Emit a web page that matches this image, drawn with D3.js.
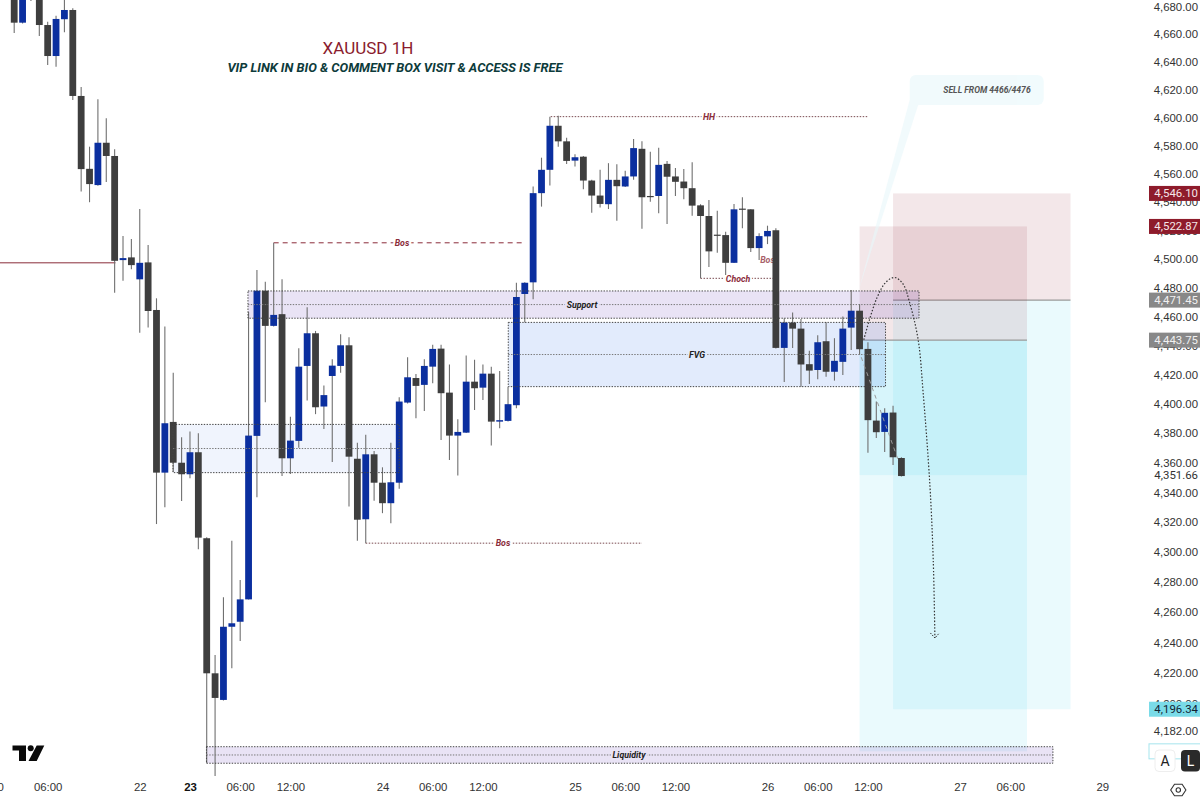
<!DOCTYPE html>
<meta charset="utf-8">

<style type="text/css">
	html, body {
		margin: 0;
		background: #fff;
	}

	svg {
		display: block;
		font-family: Roboto, sans-serif;
	}

	.axis text {
		font-size: 11.4px;
		fill: #333;
	}

	.axis .domain {
		display: none;
	}

	.note {
		font-size: 8.8px;
		font-weight: 700;
		font-style: italic;
		text-anchor: middle;
		dominant-baseline: central;
		paint-order: stroke;
		stroke-width: 4px;
	}
</style>

<body>
	<div id="chart"></div>
</body>

<script src="https://d3js.org/d3.v7.min.js"></script>

<script>
	// hourly candles (first bars run off the top)
	const opens = [4700, 4668.2, 4695, 4692, 4666.5, 4644.1, 4670.7, 4677.4, 4615.4, 4563.5, 4552, 4582, 4572.6, 4499.3, 4501.2, 4485.9, 4497.7, 4464.6, 4353.3, 4387.7, 4360, 4352.2, 4367.1, 4309.2, 4219.8, 4202.4, 4250.4, 4253.7, 4268.5, 4378.2, 4478, 4453.6, 4461.7, 4363, 4374.8, 4426, 4448.5, 4398.2, 4419.1, 4426, 4440.2, 4362.7, 4321.9, 4365.7, 4346.5, 4332.7, 4346.5, 4400.9, 4417.7, 4413, 4425.5, 4437.9, 4407.7, 4378.4, 4380.4, 4415.2, 4411.1, 4420.7, 4387.9, 4388.4, 4399.1, 4475.7, 4483.8, 4546.3, 4562.8, 4594.1, 4583, 4569.3, 4572.1, 4555.2, 4544.6, 4538.5, 4555.7, 4551, 4558.1, 4577.7, 4544.3, 4544.3, 4567, 4558.1, 4554.5, 4549.8, 4537.7, 4530.2, 4517.1, 4516.8, 4497.4, 4535.4, 4534.9, 4507.7, 4515.9, 4520.2, 4438.4, 4455.9, 4451.7, 4427.2, 4423.2, 4443, 4422, 4428.8, 4452.4, 4464.1, 4437.7, 4388.6, 4380.9, 4394.1, 4363.2];
	const highs = [4705, 4700, 4700, 4700, 4668.9, 4673.3, 4690, 4678.6, 4621.8, 4579.2, 4613, 4599.4, 4577.3, 4516.1, 4514, 4535.1, 4509.8, 4472.7, 4453.1, 4421.4, 4377.3, 4381.1, 4380, 4309.8, 4231.8, 4269.9, 4307.6, 4281.3, 4463.4, 4492.4, 4484.2, 4511.4, 4485.9, 4391.3, 4438.1, 4466.5, 4450.1, 4412.5, 4430.6, 4447.8, 4445.7, 4373.6, 4378.9, 4368, 4356.9, 4373.6, 4404.6, 4432, 4420.5, 4430.6, 4440.6, 4440.6, 4426.9, 4389.5, 4433.1, 4430.2, 4426.9, 4425.5, 4422.5, 4411.8, 4483.5, 4483.8, 4551, 4571.4, 4600.6, 4601.3, 4585.6, 4573.8, 4572.6, 4555.7, 4562.8, 4567.5, 4566.8, 4562.1, 4584.6, 4583, 4575.6, 4578.5, 4569, 4564, 4563.3, 4568.2, 4538.5, 4541.5, 4533.9, 4519.2, 4538.7, 4543.4, 4534.9, 4518.1, 4523.4, 4521.6, 4458.9, 4462.8, 4458.4, 4436.5, 4447.1, 4456.1, 4445.1, 4460, 4478.5, 4468.8, 4442.3, 4401.6, 4397.1, 4398.8, 4363.7];
	const lows = [4660.7, 4667.6, 4684, 4658.6, 4637.6, 4636.4, 4661.2, 4612.5, 4547.4, 4539.9, 4551.5, 4554.1, 4476.6, 4484.9, 4492.9, 4448.9, 4452.4, 4318.7, 4329.9, 4353.9, 4334.2, 4349.5, 4301.8, 4161.5, 4153.1, 4202, 4223.1, 4241, 4268.4, 4336.7, 4401.2, 4453.2, 4351, 4352.4, 4370.2, 4402.3, 4393, 4382.8, 4360.5, 4421.4, 4330.4, 4307.6, 4305.9, 4334.4, 4326, 4319.2, 4342.5, 4400.3, 4390.2, 4395.2, 4414.1, 4375.4, 4361.8, 4351.3, 4380.2, 4395.9, 4402.7, 4371.6, 4383.4, 4388, 4397.1, 4455.9, 4472, 4536.8, 4551.7, 4579.2, 4567, 4565.1, 4549.1, 4532.5, 4536.1, 4535.1, 4526.9, 4550.7, 4555.7, 4521.3, 4540.3, 4532.1, 4524.6, 4544.3, 4542, 4530.4, 4486.6, 4494.4, 4504.4, 4488.9, 4497.2, 4521.6, 4505, 4499.3, 4510.5, 4438, 4415, 4438.4, 4411.8, 4413.6, 4416.9, 4418.6, 4415.9, 4419.8, 4437, 4433.6, 4366.8, 4376.8, 4367.3, 4358.5, 4350.7];
	const closes = [4668.2, 4695, 4690, 4666.5, 4644.1, 4670.9, 4677.4, 4615.4, 4563.3, 4552.7, 4582, 4572.6, 4498.8, 4500.7, 4495.8, 4497.4, 4463.9, 4353.3, 4386.8, 4360, 4352.2, 4367.1, 4309.6, 4219.8, 4203.7, 4250.4, 4252.7, 4268.5, 4378.4, 4478, 4453.6, 4461.2, 4363, 4375, 4425.5, 4448.5, 4397.7, 4406, 4426.2, 4440.2, 4364.1, 4321.6, 4365.7, 4346.5, 4332.7, 4346.8, 4401.6, 4418.2, 4412.3, 4426, 4437.7, 4407.3, 4378.4, 4380.9, 4415.2, 4410.7, 4420.7, 4387.9, 4388.9, 4399.8, 4473.6, 4483.5, 4546.3, 4562.8, 4594.1, 4583, 4569.1, 4571.7, 4555.2, 4544.6, 4538.7, 4555.7, 4551.2, 4558.1, 4578.2, 4543.4, 4543.8, 4566.3, 4557.9, 4554.3, 4549.8, 4537.5, 4530.2, 4505.4, 4516.4, 4497.4, 4534.9, 4534.7, 4507.7, 4516.1, 4519.7, 4438.4, 4455.9, 4451.7, 4427, 4422.8, 4442.3, 4422, 4429.5, 4451.7, 4464.1, 4437.5, 4388.9, 4380.7, 4393.9, 4363.7, 4351];
	// small bars whose colour cannot come from open/close at this precision
	const blueDoji = [13, 53, 58, 67];

	const priceTicks = [4680, 4660, 4640, 4620, 4600, 4580, 4560, 4540, 4520, 4500, 4480, 4460, 4440, 4420, 4400, 4380, 4360, 4340, 4320, 4300, 4280, 4260, 4240, 4220, 4200, 4182];
	const timeTicks = [-3, 4, 15, 21, 27, 33, 44, 50, 56, 67, 73, 79, 90, 96, 102, 113, 119, 130];
	const timeLabels = ["00:00", "06:00", "22", "23", "06:00", "12:00", "24", "06:00", "12:00", "25", "06:00", "12:00", "26", "06:00", "12:00", "27", "06:00", "29"];

	// zones: [first bar, last bar, top price, bottom price]
	const supportZone = [27.93, 108.1, 4477.8, 4458.9];
	const fvgZone = [59.03, 104.1, 4456, 4411.8];
	const demandZone = [18.97, 46, 4386, 4353.3];
	const liquidityZone = [22.97, 124.1, 4172, 4161.3];

	// short positions: [first bar, last bar, stop, entry, target]
	const shortA = [101, 121, 4522.87, 4443.75, 4169];
	const shortB = [105, 126.2, 4546.10, 4471.45, 4196.34];
	const lastPrice = 4351.66;

	const labelPrices = [4546.10, 4522.87, 4471.45, 4443.75, 4351.66, 4196.34];
	const labelKinds = ["stop", "stop", "entry", "entry", "last", "target"];

	// projected move, [bar, price]
	const arcPoints = [[101.5, 4444], [103.05, 4472.7], [104.2, 4484.2], [105.2, 4487.2], [106.2, 4482.6], [107, 4469.3], [108, 4444], [108.6, 4407.3], [109.4, 4345], [109.8, 4295], [110, 4243]];
	const fadePoints = [[101.2, 4432], [105.7, 4360.5]];
	// callout box [first bar, last bar, top, bottom] and its tail
	const calloutBox = [107, 123, 4630.4, 4608.9];
	const calloutTail = [[107.15, 4616], [108, 4608.9], [100.9, 4478.5]];

	// structure lines: [first bar, last bar, price]
	const leftLine = [-2, 12.1, 4497.4];
	const bosUpper = [31, 60.9, 4511.4];
	const hhLine = [64.1, 102, 4600.6];
	const bosLower = [42, 75, 4305.9];
	const chochLine = [82, 91, 4486.6];

	const width = 1200;
	const height = 797;

	const x = d3.scaleLinear().domain([0, 100]).range([14.2, 851.2]);
	const y = d3.scaleLog().domain([4660, 4220]).range([34, 673]);

	const svg = d3.select("#chart").append("svg")
		.attr("width", width)
		.attr("height", height);

	const maroon = "#8a2c3a";

	const rectOf = (sel, z) => sel
		.attr("x", x(z[0]))
		.attr("y", y(z[2]))
		.attr("width", x(z[1]) - x(z[0]))
		.attr("height", y(z[3]) - y(z[2]));

	// position tools go under everything
	function drawShort(p, highlight) {
		const g = svg.append("g");
		rectOf(g.append("rect"), [p[0], p[1], p[2], p[3]]).attr("fill", "rgb(138,28,45)").attr("fill-opacity", 0.105);
		rectOf(g.append("rect"), [p[0], p[1], p[3], p[4]]).attr("fill", "rgb(80,215,235)").attr("fill-opacity", 0.12);
		if (highlight) {
			rectOf(g.append("rect"), [p[0], p[1], p[3], lastPrice]).attr("fill", "rgb(80,215,235)").attr("fill-opacity", 0.12);
		}
		g.append("line")
			.attr("x1", x(p[0])).attr("x2", x(p[1]))
			.attr("y1", y(p[3])).attr("y2", y(p[3]))
			.attr("stroke", "#9a9a9a").attr("stroke-width", 1.2);
	}
	drawShort(shortB, false);
	drawShort(shortA, true);

	// callout
	const callout = svg.append("g").attr("opacity", 0.6);
	rectOf(callout.append("rect"), calloutBox).attr("rx", 6).attr("fill", "#e8f8fb");
	callout.append("path")
		.attr("d", d3.line().x(d => x(d[0])).y(d => y(d[1])).curve(d3.curveLinearClosed)(calloutTail))
		.attr("fill", "#e8f8fb");
	svg.append("text")
		.attr("x", 987).attr("y", 90)
		.attr("text-anchor", "middle").attr("dominant-baseline", "central")
		.attr("font-size", 8.6).attr("font-weight", 700).attr("font-style", "italic")
		.attr("fill", "#555")
		.text("SELL FROM 4466/4476");

	// zone fills
	const zones = [
		{ z: supportZone, fill: "rgb(110,70,190)", a: 0.15 },
		{ z: fvgZone, fill: "rgb(60,120,235)", a: 0.15 },
		{ z: demandZone, fill: "rgb(60,120,235)", a: 0.08 },
		{ z: liquidityZone, fill: "rgb(110,70,190)", a: 0.15 }
	];
	zones.forEach(d => rectOf(svg.append("rect"), d.z).attr("fill", d.fill).attr("fill-opacity", d.a));

	// structure lines
	function hLine(l, dash, color) {
		svg.append("line")
			.attr("x1", x(l[0])).attr("x2", x(l[1]))
			.attr("y1", y(l[2])).attr("y2", y(l[2]))
			.attr("stroke", color)
			.attr("stroke-dasharray", dash);
	}
	hLine(leftLine, null, maroon);
	hLine(bosUpper, "5 4", maroon);
	hLine(hhLine, "1.5 1.5", "#7a4a50");
	hLine(bosLower, "1.5 1.5", "#7a4a50");
	hLine(chochLine, "1.5 1.5", "#7a4a50");

	function note(px, price, text, color, halo) {
		svg.append("text").attr("class", "note")
			.attr("x", px).attr("y", y(price))
			.attr("fill", color)
			.attr("stroke", halo)
			.text(text);
	}
	note(402, 4511.4, "Bos", maroon, "#fff");
	note(709, 4600.6, "HH", maroon, "#fff");
	note(503, 4305.9, "Bos", maroon, "#fff");
	note(738, 4486.2, "Choch", maroon, "#fff");
	note(767.5, 4499.3, "Bos", "#a8606a", "none");

	// candles
	const candles = d3.range(opens.length).map(i => ({
		i: i,
		o: opens[i],
		h: highs[i],
		l: lows[i],
		c: closes[i],
		up: closes[i] > opens[i] || blueDoji.includes(i)
	}));
	const bar = svg.append("g").selectAll("g")
		.data(candles)
		.enter().append("g");
	bar.append("line")
		.attr("x1", d => x(d.i)).attr("x2", d => x(d.i))
		.attr("y1", d => y(d.h)).attr("y2", d => y(d.l))
		.attr("stroke", "#707070")
		.attr("stroke-width", 1.1);
	bar.append("rect")
		.attr("x", d => x(d.i) - 3.4)
		.attr("width", 6.8)
		.attr("y", d => y(Math.max(d.o, d.c)))
		.attr("height", d => Math.max(1.2, y(Math.min(d.o, d.c)) - y(Math.max(d.o, d.c))))
		.attr("fill", d => d.up ? "#0b2f9f" : "#3e3e3e");

	// zone dotted outlines, on top of the candles
	function zoneLines(z) {
		const top = y(z[2]), bottom = y(z[3]), left = x(z[0]), right = x(z[1]);
		const g = svg.append("g").attr("fill", "none").attr("stroke", "#444").attr("stroke-dasharray", "1.4 1.4");
		g.append("path").attr("d", `M${left},${top}H${right}V${bottom}H${left}Z`);
		g.append("line")
			.attr("x1", left).attr("x2", right)
			.attr("y1", (top + bottom) / 2).attr("y2", (top + bottom) / 2)
			.attr("stroke", "#777");
	}
	[supportZone, fvgZone, demandZone, liquidityZone].forEach(z => zoneLines(z));

	const midOf = z => y.invert((y(z[2]) + y(z[3])) / 2);
	note(582, midOf(supportZone), "Support", "#222", "#e9e3f5");
	note(697, midOf(fvgZone), "FVG", "#222", "#e2ebfb");
	note(629, midOf(liquidityZone), "Liquidity", "#222", "#e9e3f5");

	// projected move
	svg.append("path")
		.attr("d", d3.line().x(d => x(d[0])).y(d => y(d[1])).curve(d3.curveCatmullRom)(arcPoints))
		.attr("fill", "none")
		.attr("stroke", "#333")
		.attr("stroke-width", 1.2)
		.attr("stroke-dasharray", "1.5 1.8");
	const tip = arcPoints[arcPoints.length - 1];
	svg.append("path")
		.attr("d", `M${x(tip[0]) - 4.5},${y(tip[1]) - 5}L${x(tip[0])},${y(tip[1])}L${x(tip[0]) + 4.5},${y(tip[1]) - 5}`)
		.attr("fill", "none")
		.attr("stroke", "#333")
		.attr("stroke-dasharray", "1.5 1.2");
	svg.append("line")
		.attr("x1", x(fadePoints[0][0])).attr("y1", y(fadePoints[0][1]))
		.attr("x2", x(fadePoints[1][0])).attr("y2", y(fadePoints[1][1]))
		.attr("stroke", "#999")
		.attr("stroke-dasharray", "4 4");

	// title
	svg.append("text")
		.attr("x", 368).attr("y", 48)
		.attr("text-anchor", "middle").attr("dominant-baseline", "central")
		.attr("font-size", 17)
		.attr("fill", "#8a1c2e")
		.text("XAUUSD 1H");
	svg.append("text")
		.attr("x", 395).attr("y", 67)
		.attr("text-anchor", "middle").attr("dominant-baseline", "central")
		.attr("font-size", 12.9).attr("font-weight", 700).attr("font-style", "italic")
		.attr("fill", "#0d3b3b")
		.text("VIP LINK IN BIO & COMMENT BOX VISIT & ACCESS IS FREE");

	// axes
	const yAxis = d3.axisRight(y)
		.tickValues(priceTicks)
		.tickSize(0)
		.tickPadding(0)
		.tickFormat(d3.format(",.2f"));
	const yG = svg.append("g").attr("class", "axis")
		.attr("transform", "translate(1198,0)")
		.call(yAxis);
	yG.selectAll("text").attr("text-anchor", "end");

	const xAxis = d3.axisBottom(x)
		.tickValues(timeTicks)
		.tickSize(0)
		.tickPadding(0)
		.tickFormat(d => timeLabels[timeTicks.indexOf(d)]);
	const xG = svg.append("g").attr("class", "axis")
		.attr("transform", "translate(0,783)")
		.call(xAxis);
	xG.selectAll("text")
		.attr("font-weight", d => d === 21 ? 700 : 400)
		.style("fill", d => d === 21 ? "#111" : "#333");

	// price labels
	const labelFill = d3.scaleOrdinal()
		.domain(["stop", "entry", "last", "target"])
		.range(["#8e1b2b", "#888888", "#ffffff", "#7adbe8"]);
	const labelText = d3.scaleOrdinal()
		.domain(["stop", "entry", "last", "target"])
		.range(["#f5e6e8", "#f0f0f0", "#333333", "#123"]);
	const tag = svg.append("g").selectAll("g")
		.data(labelPrices)
		.enter().append("g")
		.attr("transform", d => `translate(0,${y(d)})`);
	tag.append("rect")
		.attr("x", 1149).attr("y", -7.5)
		.attr("width", 51).attr("height", 15)
		.attr("fill", (d, i) => labelFill(labelKinds[i]));
	tag.append("text")
		.attr("x", 1198)
		.attr("text-anchor", "end").attr("dominant-baseline", "central")
		.attr("font-size", 11.4)
		.attr("fill", (d, i) => labelText(labelKinds[i]))
		.text(d => d3.format(",.2f")(d));

	// hidden target label behind the buttons
	svg.append("rect")
		.attr("x", 1149).attr("y", y(shortA[4]) - 7.5)
		.attr("width", 60).attr("height", 15)
		.attr("fill", "#fff")
		.attr("stroke", "#a5e5ee");

	// A / L buttons
	svg.append("rect")
		.attr("x", 1155).attr("y", 750).attr("width", 20).attr("height", 21.5).attr("rx", 4)
		.attr("fill", "#fff").attr("stroke", "#eee");
	svg.append("text")
		.attr("x", 1165).attr("y", 761)
		.attr("text-anchor", "middle").attr("dominant-baseline", "central")
		.attr("font-size", 14).attr("fill", "#222")
		.text("A");
	svg.append("rect")
		.attr("x", 1181).attr("y", 750).attr("width", 19).attr("height", 21.5).attr("rx", 4)
		.attr("fill", "#2a2a2a");
	svg.append("text")
		.attr("x", 1190.5).attr("y", 761)
		.attr("text-anchor", "middle").attr("dominant-baseline", "central")
		.attr("font-size", 14).attr("fill", "#fff")
		.text("L");

	// settings hexagon
	const hex = d3.range(6).map(k => {
		const a = k * Math.PI / 3;
		return [1178.3 + 7.6 * Math.cos(a), 790 + 6.6 * Math.sin(a)];
	});
	svg.append("path")
		.attr("d", d3.line().curve(d3.curveLinearClosed)(hex))
		.attr("fill", "none").attr("stroke", "#333").attr("stroke-width", 1.1);
	svg.append("circle")
		.attr("cx", 1178.3).attr("cy", 790).attr("r", 2.2)
		.attr("fill", "none").attr("stroke", "#333").attr("stroke-width", 1.1);

	// logo
	svg.append("path")
		.attr("d", "M12.5 745.5H26V761H19V750.5H12.5ZM36.7 745.5H44.3L36.7 761H28.5Z")
		.attr("fill", "#0a0a0a");
	svg.append("circle")
		.attr("cx", 30.7).attr("cy", 748.2).attr("r", 3)
		.attr("fill", "#0a0a0a");
</script>
